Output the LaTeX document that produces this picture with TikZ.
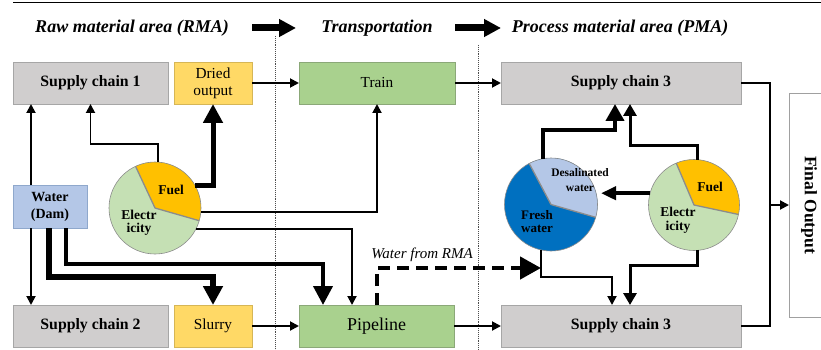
\documentclass[tikz,border=0pt]{standalone}
\usepackage{fontspec}
\setmainfont{Liberation Serif}
\usetikzlibrary{arrows.meta,calc}

\definecolor{scgray}{HTML}{D0CECE}
\definecolor{scedge}{HTML}{A6A6A6}
\definecolor{yel}{HTML}{FFD966}
\definecolor{yeledge}{HTML}{D6B656}
\definecolor{grn}{HTML}{A9D18E}
\definecolor{grnedge}{HTML}{8BA878}
\definecolor{wblue}{HTML}{B4C7E7}
\definecolor{wedge}{HTML}{8FA8CC}
\definecolor{fuelc}{HTML}{FFC000}
\definecolor{elecc}{HTML}{C5E0B4}
\definecolor{freshc}{HTML}{0070C0}
\definecolor{desalc}{HTML}{B4C7E7}
\definecolor{fedge}{HTML}{A0A0A0}
\definecolor{rimc}{HTML}{8C8C8C}

\tikzset{
  box/.style={draw, minimum height=42pt, inner sep=0pt, outer sep=0pt, line width=0.8pt,
    font=\fontsize{15.3}{17}\selectfont, align=center},
  scbox/.style={box, fill=scgray, draw=scedge, font=\fontsize{15.8}{17}\selectfont\bfseries},
  ybox/.style={box, fill=yel, draw=yeledge},
  gbox/.style={box, fill=grn, draw=grnedge},
  head/.style={font=\fontsize{18}{20}\selectfont\bfseries\itshape, inner sep=0pt},
  headarrow/.style={line width=7pt, -{Triangle[length=17pt,width=17pt]}},
  pienode/.style={circle, inner sep=0pt, outer sep=0pt},
  pielabel/.style={font=\fontsize{13.5}{13}\selectfont\bfseries, align=center, inner sep=0pt},
  sep/.style={draw=rimc, line width=1.3pt},
  rim/.style={draw=rimc, line width=0.6pt},
  link/.style={line width=1.9pt, -{Triangle[length=9pt,width=9pt]}},
  medium/.style={line width=3pt, -{Triangle[length=12pt,width=13pt]}},
  heavy/.style={line width=5pt, -{Triangle[length=19pt,width=19pt]}},
  dashlink/.style={line width=4.5pt, dash pattern=on 12pt off 7pt, -{Triangle[length=21pt,width=22pt]}},
  busline/.style={line width=1.9pt},
  divider/.style={draw=black!70, densely dotted, line width=0.9pt},
}

\begin{document}
\begin{tikzpicture}[x=1pt, y=-1pt]
\useasboundingbox (0,0) rectangle (821,350);
\fill[white] (0,0) rectangle (821,350);

% top rule and area dividers
\draw[line width=1.6pt] (13,2.5) -- (821,2.5);
\draw[divider] (275,36) -- (275,350);
\draw[divider] (478,45) -- (478,350);

% area headings
\node[head] (rma) at (132,28) {Raw material area (RMA)};
\node[head] (trans) at (377,28) {Transportation};
\node[head] (pma) at (620,28) {Process material area (PMA)};
\coordinate (a1s) at (252,28);
\coordinate (a1e) at (296,28);
\coordinate (a2s) at (455,28);
\coordinate (a2e) at (501,28);
\draw[headarrow] (a1s) -- (a1e);
\draw[headarrow] (a2s) -- (a2e);

% boxes
\node[scbox, minimum width=155pt] (sc1) at (90.5,83) {Supply chain 1};
\node[ybox, minimum width=78pt] (dried) at (213,83) {Dried\\output};
\node[gbox, minimum width=156pt] (train) at (377,83) {Train};
\node[scbox, minimum width=240pt] (sc3a) at (621,83) {Supply chain 3};
\node[box, fill=wblue, draw=wedge, minimum width=74pt, minimum height=43pt,
  font=\fontsize{14}{17}\selectfont\bfseries] (water) at (50,206.5) {Water\\(Dam)};
\node[scbox, minimum width=155pt] (sc2) at (90.5,326) {Supply chain 2};
\node[ybox, minimum width=78pt] (slurry) at (213,326) {Slurry};
\node[gbox, minimum width=155pt, font=\fontsize{18}{20}\selectfont] (pipe) at (376.5,326) {Pipeline};
\node[scbox, minimum width=240pt] (sc3b) at (621,326) {Supply chain 3};
\node[draw=fedge, line width=0.8pt, minimum width=42pt, minimum height=224pt, inner sep=0pt, outer sep=0pt]
  (final) at (810,205) {};
\node[rotate=-90, font=\fontsize{17.5}{19}\selectfont\bfseries, inner sep=0pt] (finaltxt) at (809,205) {Final Output};

% energy pie in the raw material area
\node[pienode, minimum size=92pt] (pie1) at (155,208) {};
\begin{scope}[shift={(pie1.center)}, x=1pt, y=1pt]
  \fill[elecc] (0,0) circle[radius=46];
  \fill[fuelc] (0,0) -- (-16:46) arc[start angle=-16, end angle=115, radius=46] -- cycle;
  \draw[sep] (-16:46) -- (0,0) -- (115:46);
  \draw[rim] (0,0) circle[radius=46];
\end{scope}
\node[pielabel] (p1fuel) at (171,190) {Fuel};
\node[pielabel] (p1elec) at (139,223) {Electr\\icity};

% water pie in the process material area
\node[pienode, minimum size=93pt] (pie2) at (551,204.5) {};
\begin{scope}[shift={(pie2.center)}, x=1pt, y=1pt]
  \fill[freshc] (0,0) circle[radius=46.5];
  \fill[desalc] (0,0) -- (-16:46.5) arc[start angle=-16, end angle=118, radius=46.5] -- cycle;
  \draw[sep] (-16:46.5) -- (0,0) -- (118:46.5);
  \draw[rim] (0,0) circle[radius=46.5];
\end{scope}
\node[pielabel, font=\fontsize{11.5}{15}\selectfont\bfseries] (p2desal) at (580,180.5) {Desalinated\\water};
\node[pielabel, font=\fontsize{13}{13}\selectfont\bfseries] (p2fresh) at (537,221.5) {Fresh\\water};

% energy pie in the process material area
\node[pienode, minimum size=91pt] (pie3) at (694,205) {};
\begin{scope}[shift={(pie3.center)}, x=1pt, y=1pt]
  \fill[elecc] (0,0) circle[radius=45.5];
  \fill[fuelc] (0,0) -- (-12:45.5) arc[start angle=-12, end angle=113, radius=45.5] -- cycle;
  \draw[sep] (-12:45.5) -- (0,0) -- (113:45.5);
  \draw[rim] (0,0) circle[radius=45.5];
\end{scope}
\node[pielabel] (p3fuel) at (710,187) {Fuel};
\node[pielabel, font=\fontsize{13.5}{14}\selectfont\bfseries] (p3elec) at (678,220) {Electr\\icity};

% raw material area flows
\coordinate (wtop) at ($(water.north)+(-19,0)$);
\coordinate (wbot) at ($(water.south)+(-19,0)$);
\draw[link] (wtop) -- (wtop |- sc1.south);
\draw[link] (wbot) -- (wbot |- sc2.north);
\draw[link] (pie1.86) |- ($(sc1.south)+(0,40)$) -- (sc1.south);
\draw[heavy] (pie1.29) -| (dried.south);
\draw[link] (pie1.-5) -| (train.south);
\draw[link] (pie1.-27) -| ($(pipe.north)+(-24.5,0)$);
\draw[heavy, line width=6pt] ($(water.south)+(-1,0)$) |- ($(slurry.north)+(0,-28)$) -- (slurry.north);
\draw[heavy, line width=4pt] ($(water.south)+(16,0)$) |- ($(pipe.north)+(-53.5,-41)$) -- ($(pipe.north)+(-53.5,0)$);
\draw[link] (dried.east) -- (train.west);
\draw[link] (slurry.east) -- (pipe.west);

% transport to the process material area
\draw[link] (train.east) -- (sc3a.west);
\draw[link] (pipe.east) -- (sc3b.west);
\coordinate (wj) at (541,268);
\draw[dashlink] ($(pipe.north)+(0.5,0)$) |- (wj);
\node[font=\fontsize{15}{17}\selectfont\itshape, inner sep=0pt] (wlabel) at (422,255) {Water from RMA};

% process material area flows
\draw[heavy, line width=4pt, -{Triangle[length=17pt,width=18pt]}] (pie2.100) |- ($(sc3a.south)+(-6,26)$) -- ($(sc3a.south)+(-6,0)$);
\draw[medium] (pie3.86) |- ($(sc3a.south)+(9,41)$) -- ($(sc3a.south)+(9,0)$);
\draw[link] (pie2.-102) |- ($(sc3b.north)+(-9,-28)$) -- ($(sc3b.north)+(-9,0)$);
\draw[medium] (pie3.-86) |- ($(sc3b.north)+(9,-40)$) -- ($(sc3b.north)+(9,0)$);
\coordinate (dtip) at (601,0);
\draw[line width=4pt, -{Triangle[length=15pt,width=13pt]}] (pie3.165) -- (pie3.165 -| dtip);

% collection into the final output
\coordinate (bus) at (770,205);
\draw[busline] (sc3a.east) -| (bus) |- (sc3b.east);
\draw[link] (bus) -- (final.west);
\end{tikzpicture}
\end{document}
